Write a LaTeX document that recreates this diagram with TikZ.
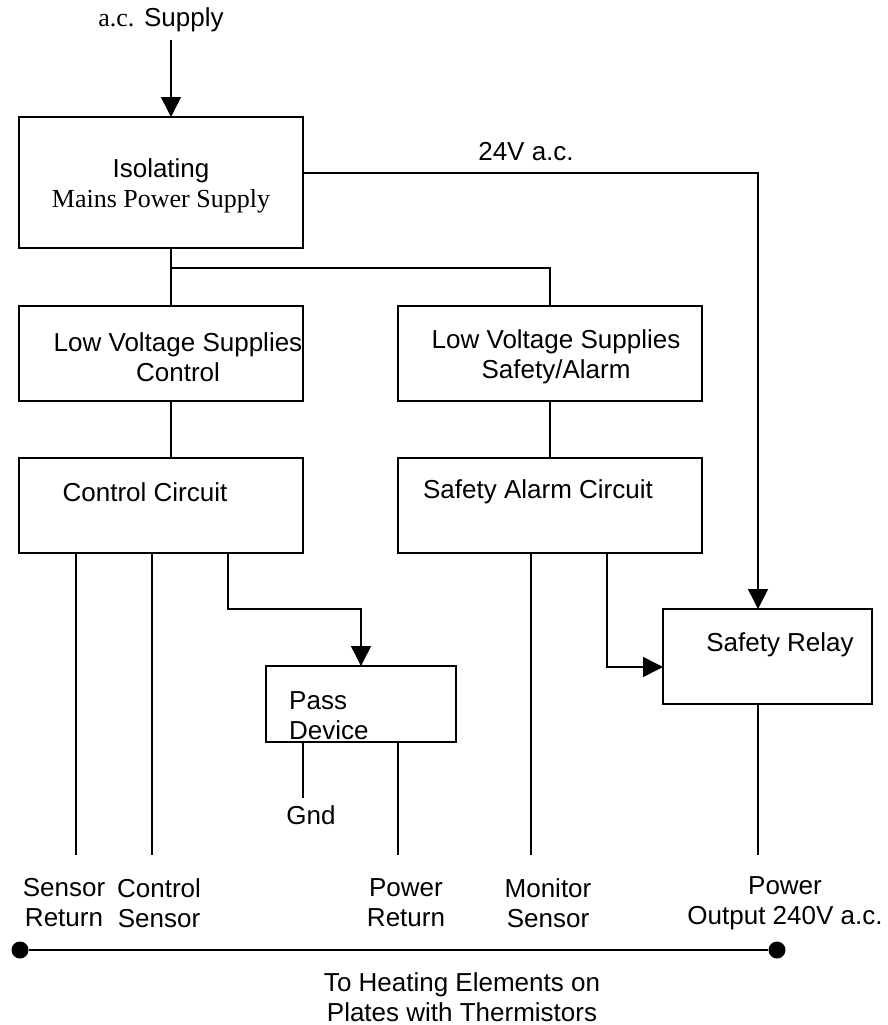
\documentclass[tikz,border=0pt]{standalone}
\usepackage{fontspec}
\setmainfont{Liberation Sans}
\newfontfamily\tnr{Liberation Serif}
\usetikzlibrary{arrows.meta}

\tikzset{
  blk/.style 2 args={draw, line width=1.5pt, inner sep=0pt, outer sep=0pt,
    minimum width=#1, minimum height=#2},
  txt/.style={inner sep=0pt, align=center, font=\fontsize{26}{30}\selectfont},
  wire/.style={line width=1.5pt},
  arr/.style={line width=1.5pt, -{Triangle[width=20pt,length=20pt]}},
  dot/.style={circle, fill, inner sep=0pt, minimum size=17pt}
}

\begin{document}
\begin{tikzpicture}[x=1pt,y=-1pt]
\useasboundingbox (0,0) rectangle (888,1025);

\node [blk={284pt}{131pt}] (iso) at (161,182.5) {};
\node [blk={284pt}{95pt}] (lvc) at (161,353.5) {};
\node [blk={304pt}{95pt}] (lvs) at (550,353.5) {};
\node [blk={284pt}{95pt}] (cc) at (161,505.5) {};
\node [blk={304pt}{95pt}] (sac) at (550,505.5) {};
\node [blk={190pt}{76pt}] (pass) at (361,704) {};
\node [blk={209pt}{95pt}] (relay) at (767.5,656.5) {};

\node [txt] (supply) at (161,20) {{\tnr a.c.} Supply};
\node [txt] (isot) at (161,186) {Isolating\\{\tnr Mains Power Supply}};
\node [txt] (lvct) at (178,357) {Low Voltage Supplies\\Control};
\node [txt] (lvst) at (556,357) {Low Voltage Supplies\\Safety/Alarm};
\node [txt] (cct) at (145,492) {Control Circuit};
\node [txt] (sact) at (538,492) {Safety Alarm Circuit};
\node [txt] (relayt) at (780,645) {Safety Relay};
\node [txt,align=left,anchor=west] (passt) at (289,716) {Pass\\Device};
\node [txt] (vac) at (526,152) {24V a.c.};
\node [txt] (gnd) at (311,815) {Gnd};

\node [txt] (srl) at (64,903) {Sensor\\Return};
\node [txt] (csl) at (159,903) {Control\\Sensor};
\node [txt] (prl) at (406,903) {Power\\Return};
\node [txt] (msl) at (548,903) {Monitor\\Sensor};
\node [txt] (pol) at (785,903) {Power\\Output 240V a.c.};
\node [txt] (heat) at (462,997) {To Heating Elements on\\Plates with Thermistors};

\node [dot] (dl) at (20,950) {};
\node [dot] (dr) at (777,950) {};

\coordinate (in) at (171,40);
\coordinate (split) at (171,268);
\coordinate (ac) at (758,173);
\coordinate (sr) at (76,855);
\coordinate (cs) at (152,855);
\coordinate (drv) at (228,609);
\coordinate (g) at (303,798);
\coordinate (pr) at (398,855);
\coordinate (ms) at (531,855);
\coordinate (trip) at (607,667);
\coordinate (po) at (758,855);

\draw [arr] (in) -- (in |- iso.north);
\draw [wire] (split |- iso.south) -- (split |- lvc.north);
\draw [wire] (split) -| (lvs.north);
\draw [arr] (iso.east |- ac) -- (ac) -- (ac |- relay.north);
\draw [wire] (split |- lvc.south) -- (split |- cc.north);
\draw [wire] (lvs.south) -- (sac.north);

\draw [wire] (sr |- cc.south) -- (sr);
\draw [wire] (cs |- cc.south) -- (cs);
\draw [arr] (drv |- cc.south) -- (drv) -| (pass.north);
\draw [wire] (g |- pass.south) -- (g);
\draw [wire] (pr |- pass.south) -- (pr);
\draw [wire] (ms |- sac.south) -- (ms);
\draw [arr] (trip |- sac.south) -- (trip) -- (trip -| relay.west);
\draw [wire] (po |- relay.south) -- (po);

\draw [wire] (dl) -- (dr);
\end{tikzpicture}
\end{document}
